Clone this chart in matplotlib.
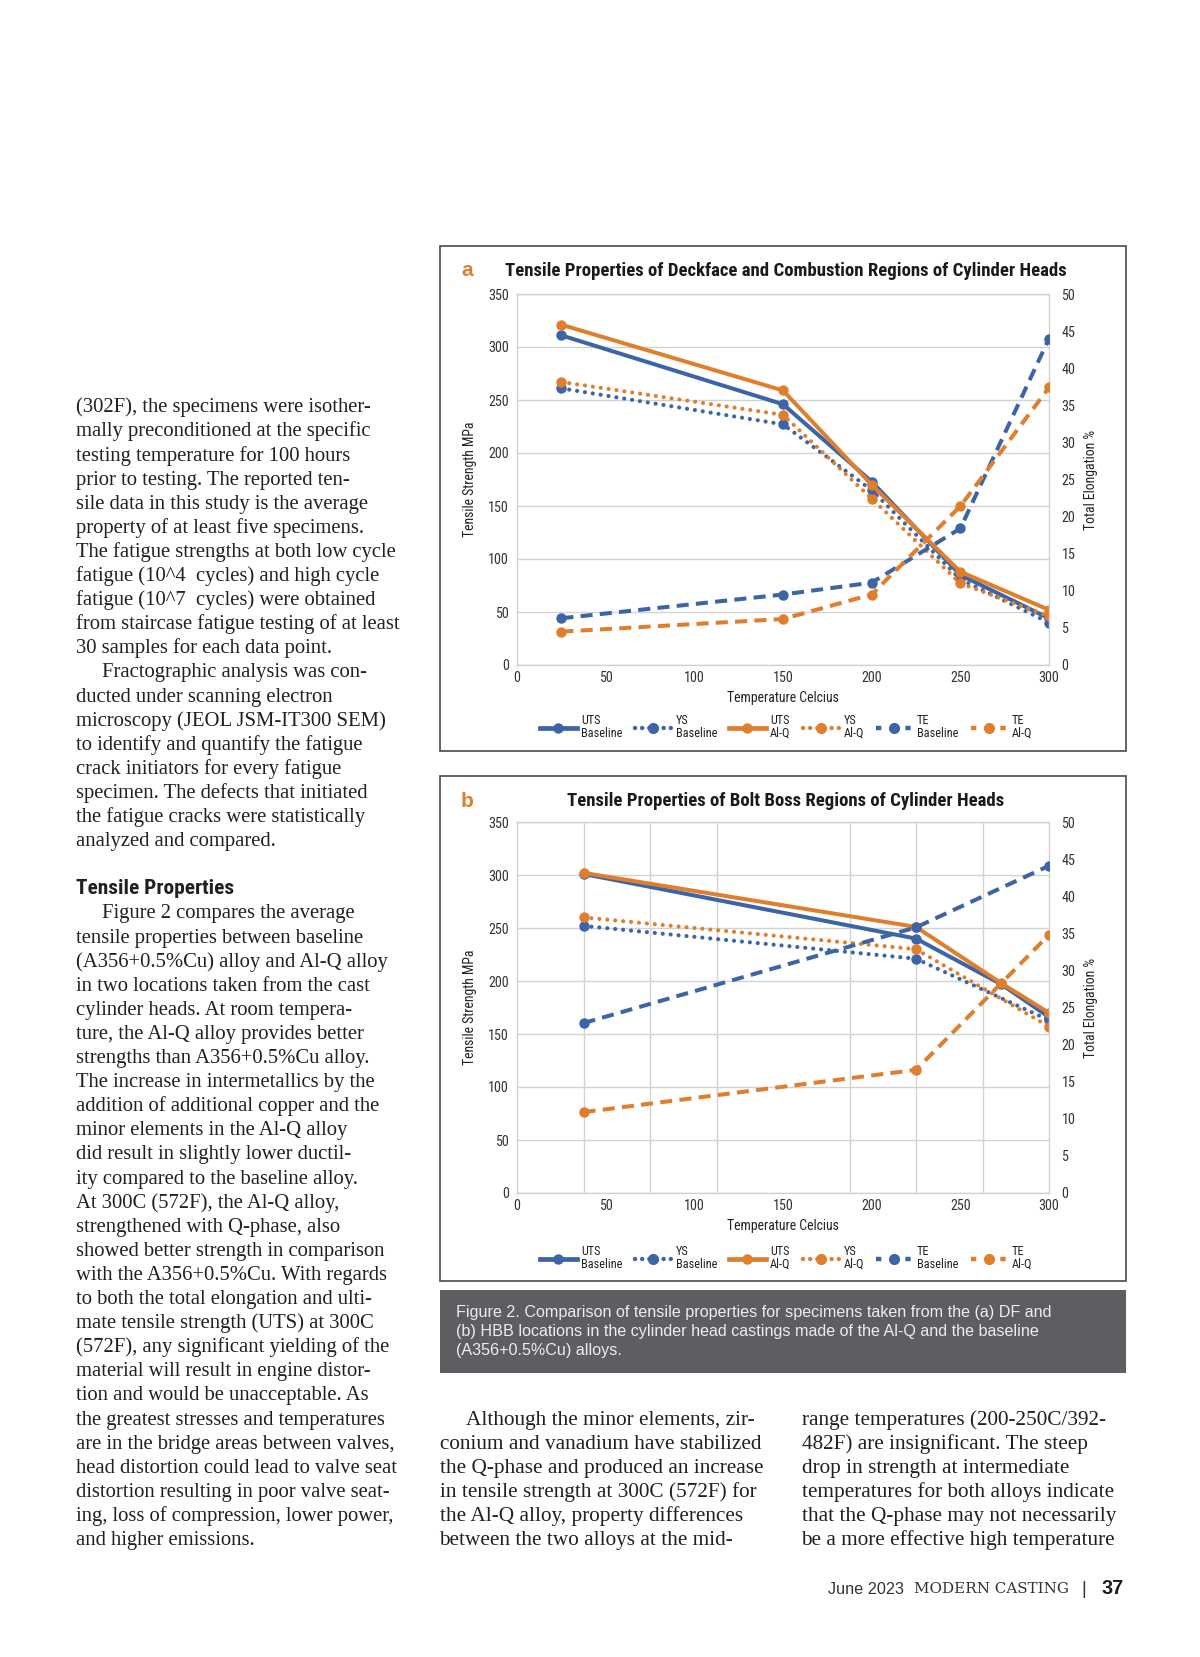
import numpy as np
import matplotlib
matplotlib.use('Agg')
import matplotlib.pyplot as plt
import matplotlib.font_manager as fm
from matplotlib.patches import Rectangle
from matplotlib.lines import Line2D

# ---- data ----
# chart a: deckface / combustion regions
temp_a = [25, 150, 200, 250, 300]
uts_base_a = [311, 246, 173, 85, 44]
uts_alq_a = [321, 259, 170, 88, 52]
ys_base_a = [261, 227, 165, 81, 40]
ys_alq_a = [267, 236, 157, 77, 46]
te_base_a = [6.3, 9.5, 11.1, 18.4, 44.0]
te_alq_a = [4.5, 6.2, 9.5, 21.4, 37.4]

# chart b: bolt boss regions
temp_uts_b = [37.5, 225, 273, 300]
uts_base_b = [301, 240, 197, 166]
uts_alq_b = [302, 251, 198, 170]
temp_b = [37.5, 225, 300]
ys_base_b = [252, 221, 163]
ys_alq_b = [260, 230, 157]
te_base_b = [22.9, 35.8, 44.1]
te_alq_b = [10.9, 16.6, 34.8]

legend_labels = ['UTS\nBaseline', 'YS\nBaseline', 'UTS\nAl-Q', 'YS\nAl-Q', 'TE\nBaseline', 'TE\nAl-Q']
title_a = 'Tensile Properties of Deckface and Combustion Regions of Cylinder Heads'
title_b = 'Tensile Properties of Bolt Boss Regions of Cylinder Heads'

# ---- page text ----
col1_top = [
    "(302F), the specimens were isother-",
    "mally preconditioned at the specific",
    "testing temperature for 100 hours",
    "prior to testing. The reported ten-",
    "sile data in this study is the average",
    "property of at least five specimens.",
    "The fatigue strengths at both low cycle",
    "fatigue (10^4  cycles) and high cycle",
    "fatigue (10^7  cycles) were obtained",
    "from staircase fatigue testing of at least",
    "30 samples for each data point.",
    "\tFractographic analysis was con-",
    "ducted under scanning electron",
    "microscopy (JEOL JSM-IT300 SEM)",
    "to identify and quantify the fatigue",
    "crack initiators for every fatigue",
    "specimen. The defects that initiated",
    "the fatigue cracks were statistically",
    "analyzed and compared.",
]
col1_bottom = [
    "\tFigure 2 compares the average",
    "tensile properties between baseline",
    "(A356+0.5%Cu) alloy and Al-Q alloy",
    "in two locations taken from the cast",
    "cylinder heads. At room tempera-",
    "ture, the Al-Q alloy provides better",
    "strengths than A356+0.5%Cu alloy.",
    "The increase in intermetallics by the",
    "addition of additional copper and the",
    "minor elements in the Al-Q alloy",
    "did result in slightly lower ductil-",
    "ity compared to the baseline alloy.",
    "At 300C (572F), the Al-Q alloy,",
    "strengthened with Q-phase, also",
    "showed better strength in comparison",
    "with the A356+0.5%Cu. With regards",
    "to both the total elongation and ulti-",
    "mate tensile strength (UTS) at 300C",
    "(572F), any significant yielding of the",
    "material will result in engine distor-",
    "tion and would be unacceptable. As",
    "the greatest stresses and temperatures",
    "are in the bridge areas between valves,",
    "head distortion could lead to valve seat",
    "distortion resulting in poor valve seat-",
    "ing, loss of compression, lower power,",
    "and higher emissions.",
]
col2 = [
    "\tAlthough the minor elements, zir-",
    "conium and vanadium have stabilized",
    "the Q-phase and produced an increase",
    "in tensile strength at 300C (572F) for",
    "the Al-Q alloy, property differences",
    "between the two alloys at the mid-",
]
col3 = [
    "range temperatures (200-250C/392-",
    "482F) are insignificant. The steep",
    "drop in strength at intermediate",
    "temperatures for both alloys indicate",
    "that the Q-phase may not necessarily",
    "be a more effective high temperature",
]
caption = [
    "Figure 2. Comparison of tensile properties for specimens taken from the (a) DF and",
    "(b) HBB locations in the cylinder head castings made of the Al-Q and the baseline",
    "(A356+0.5%Cu) alloys.",
]

BLUE = '#3c64a6'
ORANGE = '#df7f2d'
GRID = '#d2d2d2'
INK = '#231f20'

names = {f.name for f in fm.fontManager.ttflist}


def pick(*cands):
    for c in cands:
        if c in names:
            return c
    return 'DejaVu Sans'


narrow = pick('Liberation Sans Narrow', 'Arial Narrow', 'Roboto Condensed', 'Liberation Sans')
sans = pick('Liberation Sans', 'Arial', 'DejaVu Sans')
serif = pick('Liberation Serif', 'DejaVu Serif')
slab = pick('DejaVu Serif', 'Liberation Serif')

W, H = 1200, 1657
fig = plt.figure(figsize=(12, 16.57), dpi=100)
fig.patch.set_facecolor('white')
rend = fig.canvas.get_renderer()


def fx(x):
    return x / W


def fy(y):
    return 1 - y / H


def fit(text, target, **kw):
    # font size that makes `text` about `target` pixels wide
    t = fig.text(0, 0, text, fontsize=20, **kw)
    w = t.get_window_extent(renderer=rend).width
    t.remove()
    return 20 * target / w


title_fs = fit(title_a, 559, family=narrow, weight='bold')
tick_fs = fit('350', 21, family=narrow)
lab_fs = fit('Temperature Celcius', 112, family=narrow)
leg_fs = fit('Baseline', 41, family=narrow)

UTS_STY = dict(lw=2.9, marker='o', ms=6.5)
YS_STY = dict(ls=(0, (0.01, 1.9)), lw=3.0, dash_capstyle='round', marker='o', ms=6.5)
TE_STY = dict(ls=(0, (3, 1.8)), lw=2.9, marker='o', ms=6.5)


def draw_chart(ax, letter, title, title_y, legend_y, data, xgrid):
    (t_uts, ub, ua, t_ys, yb, ya, t_te, tb, ta) = data
    ax.set_xlim(0, 300)
    ax.set_ylim(0, 350)
    ax.set_xticks(np.arange(0, 301, 50))
    ax.set_yticks(np.arange(0, 351, 50))
    ax.set_xticks(np.arange(0, 300.1, xgrid), minor=True)
    ax.grid(False)
    ax.grid(True, which='minor', axis='x', color=GRID, lw=1.0)
    ax.grid(True, which='major', axis='y', color=GRID, lw=1.0)
    ax.tick_params(which='both', length=0, labelsize=tick_fs, labelcolor='#333333')
    ax.tick_params(axis='y', pad=6)
    ax.tick_params(axis='x', pad=4)
    for lab in ax.get_xticklabels() + ax.get_yticklabels():
        lab.set_family(narrow)
    for s in ax.spines.values():
        s.set_color(GRID)
        s.set_linewidth(1.0)
    ax.set_axisbelow(True)

    ax.plot(t_uts, ub, color=BLUE, **UTS_STY)
    ax.plot(t_ys, yb, color=BLUE, **YS_STY)
    ax.plot(t_uts, ua, color=ORANGE, **UTS_STY)
    ax.plot(t_ys, ya, color=ORANGE, **YS_STY)

    ax2 = ax.twinx()
    ax2.set_ylim(0, 50)
    ax2.set_yticks(np.arange(0, 51, 5))
    ax2.tick_params(length=0, labelsize=tick_fs, labelcolor='#333333', pad=9)
    for lab in ax2.get_yticklabels():
        lab.set_family(narrow)
    for s in ax2.spines.values():
        s.set_visible(False)
    ax2.plot(t_te, tb, color=BLUE, **TE_STY)
    ax2.plot(t_te, ta, color=ORANGE, **TE_STY)

    ax.set_xlabel('Temperature Celcius', family=narrow, fontsize=lab_fs, color='#222222')
    ax.xaxis.set_label_coords(0.5, -0.07)
    ax.set_ylabel('Tensile Strength MPa', family=narrow, fontsize=lab_fs, color='#222222')
    ax.yaxis.set_label_coords(-0.076, 0.5)
    ax2.set_ylabel('Total Elongation %', family=narrow, fontsize=lab_fs, color='#222222')
    ax2.yaxis.set_label_coords(1.066, 0.5)

    fig.text(fx(786), fy(title_y), title, family=narrow, weight='bold',
             fontsize=title_fs, color='#1a1a1a', ha='center', va='center')
    fig.text(fx(467), fy(title_y), letter, family=sans, weight='bold',
             fontsize=15, color=ORANGE, ha='center', va='center')

    # legend proxies with shorter dash patterns so the styles read at handle size
    proxies = [
        Line2D([], [], color=BLUE, lw=3.4, marker='o', ms=6.5),
        Line2D([], [], color=BLUE, ls=(0, (0.01, 1.6)), lw=3.2, dash_capstyle='round', marker='o', ms=7),
        Line2D([], [], color=ORANGE, lw=3.4, marker='o', ms=6.5),
        Line2D([], [], color=ORANGE, ls=(0, (0.01, 1.6)), lw=3.2, dash_capstyle='round', marker='o', ms=7),
        Line2D([], [], color=BLUE, ls=(0, (1.2, 2.1)), lw=3.2, marker='o', ms=7),
        Line2D([], [], color=ORANGE, ls=(0, (1.2, 2.1)), lw=3.2, marker='o', ms=7),
    ]
    leg = ax2.legend(proxies, legend_labels, loc='center',
                     bbox_to_anchor=(fx(786), fy(legend_y)), bbox_transform=fig.transFigure,
                     ncol=6, frameon=False, handlelength=3.0, handletextpad=0.35,
                     columnspacing=1.0, prop={'family': narrow, 'size': leg_fs})
    for t in leg.get_texts():
        t.set_linespacing(0.95)
        t.set_color('#222222')


ax_a = fig.add_axes([fx(517), fy(665), 532 / W, 371 / H])
draw_chart(ax_a, 'a', title_a, 271, 727,
           (temp_a, uts_base_a, uts_alq_a, temp_a, ys_base_a, ys_alq_a,
            temp_a, te_base_a, te_alq_a), 50)

ax_b = fig.add_axes([fx(517), fy(1193), 532 / W, 371 / H])
draw_chart(ax_b, 'b', title_b, 801.5, 1258,
           (temp_uts_b, uts_base_b, uts_alq_b, temp_b, ys_base_b, ys_alq_b,
            temp_b, te_base_b, te_alq_b), 37.5)

# chart frames and caption box
for top in (245.6, 776):
    fig.add_artist(Rectangle((fx(439.5), fy(top + 505)), 686 / W, 505 / H,
                             transform=fig.transFigure, fill=False,
                             edgecolor='#4a4a4a', lw=1.2))
fig.add_artist(Rectangle((fx(439.5), fy(1373)), 686 / W, 83 / H,
                         transform=fig.transFigure, facecolor='#5d5e61',
                         edgecolor='none'))

cap_fs = fit(caption[0], 595, family=sans)
for i, line in enumerate(caption):
    fig.text(fx(456.4), fy(1312 + i * 19.5), line, family=sans, fontsize=cap_fs,
             color='#ededed', va='center')


def column(lines, x, y0, size, step=24.1, indent=25):
    em = size * 100 / 72
    for i, line in enumerate(lines):
        xx = x
        if line.startswith('\t'):
            line = line[1:]
            xx = x + indent
        fig.text(fx(xx), fy(y0 + i * step + 0.23 * em), line, family=serif,
                 fontsize=size, color=INK, va='baseline')


body_fs = fit('head distortion could lead to valve seat', 322, family=serif)
col_fs = fit('the Q-phase and produced an increase', 323, family=serif)

column(col1_top, 76.5, 407.6, body_fs)
fig.text(fx(76.5), fy(889), 'Tensile Properties', family=narrow, weight='bold',
         fontsize=fit('Tensile Properties', 157, family=narrow, weight='bold'),
         color=INK, va='center')
column(col1_bottom, 76.5, 913.7, body_fs)
column(col2, 439.5, 1420, col_fs, indent=26)
column(col3, 801.5, 1420, col_fs)

# footer
fig.text(fx(828), fy(1589), 'June 2023', family=sans,
         fontsize=fit('June 2023', 76, family=sans), color='#333333', va='center')
fig.text(fx(914), fy(1589), 'MODERN CASTING', family=slab,
         fontsize=fit('MODERN CASTING', 155, family=slab), color='#333333', va='center')
fig.text(fx(1084), fy(1589), '|', family=sans, fontsize=13, color='#333333',
         ha='center', va='center')
fig.text(fx(1124), fy(1589), '37', family=sans, weight='bold',
         fontsize=fit('37', 22, family=sans, weight='bold'), color='#1a1a1a',
         ha='right', va='center')

fig.savefig('out.png', dpi=100, facecolor='white')
